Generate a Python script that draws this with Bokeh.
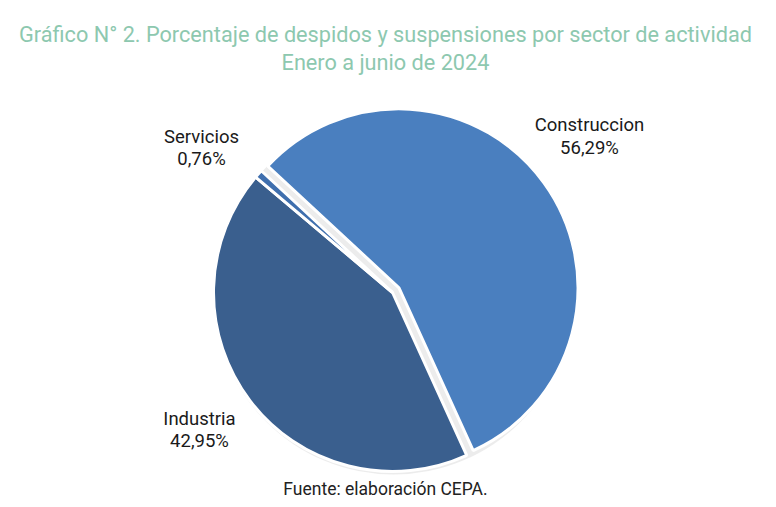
import math
from bokeh.plotting import figure
from bokeh.models import ColumnDataSource, Range1d
from bokeh.core.properties import value
from bokeh.embed import file_html
from bokeh.resources import INLINE

# ---- data ----
sectors = ["Construccion", "Industria", "Servicios"]
values = [56.29, 42.95, 0.76]
labels = ["56,29%", "42,95%", "0,76%"]
colors = ["#4a7fbf", "#3a5f8e", "#3f6fae"]
explode = [8, 0, 0]

title1 = "Gráfico N° 2. Porcentaje de despidos y suspensiones por sector de actividad"
title2 = "Enero a junio de 2024"
source_txt = "Fuente: elaboración CEPA."

W, H = 760, 499

def sx(X):
    return X - 2

def sy(Y):
    return 499 - Y

p = figure(width=W, height=H, output_backend="svg", toolbar_location=None,
           x_range=Range1d(0, W), y_range=Range1d(0, H), min_border=0)
p.axis.visible = False
p.grid.visible = False
p.outline_line_color = None
p.background_fill_color = "white"

cx, cy, R = sx(394), sy(292), 179
start_deg = -65.5  # clockwise end of Construccion
total = sum(values)
spans = [v / total * 2 * math.pi for v in values]
a0 = math.radians(start_deg)
starts = {}
ends = {}
starts[0] = a0
ends[0] = a0 + spans[0]
starts[2] = ends[0]
ends[2] = starts[2] + spans[2]
starts[1] = ends[2]
ends[1] = starts[1] + spans[1]

xs, ys, st, en = [], [], [], []
for i in range(3):
    mid = (starts[i] + ends[i]) / 2
    xs.append(cx + explode[i] * math.cos(mid))
    ys.append(cy + explode[i] * math.sin(mid))
    st.append(starts[i])
    en.append(ends[i])

src = ColumnDataSource(dict(x=xs, y=ys, start=st, end=en, color=colors))
# subtle shadow
p.wedge(x=[cx + 1], y=[cy - 2], radius=R + 1, start_angle=0, end_angle=2 * math.pi,
        fill_color="#c8c8c8", fill_alpha=0.35, line_color=None)
p.wedge(x="x", y="y", radius=R, start_angle="start", end_angle="end",
        fill_color="color", line_color="white", line_width=3, source=src)

# labels
label_pos = [(591, 124, 147), (201, 418, 440), (203, 136, 158)]
for i in range(3):
    X, Y1, Y2 = label_pos[i]
    p.text(x=[sx(X)], y=[sy(Y1)], text=[sectors[i]], text_font=value("Roboto"),
           text_font_size="18.5px", text_color="#1a1a1a", text_align="center",
           text_baseline="middle")
    p.text(x=[sx(X)], y=[sy(Y2)], text=[labels[i]], text_font=value("Roboto"),
           text_font_size="18.5px", text_color="#1a1a1a", text_align="center",
           text_baseline="middle")

# titles
p.text(x=[sx(387)], y=[sy(34)], text=[title1], text_font=value("Roboto"),
       text_font_size="21.7px", text_color="#8dc8af", text_align="center",
       text_baseline="middle")
p.text(x=[sx(387)], y=[sy(62)], text=[title2], text_font=value("Roboto"),
       text_font_size="21.7px", text_color="#8dc8af", text_align="center",
       text_baseline="middle")
p.text(x=[sx(387)], y=[sy(488)], text=[source_txt], text_font=value("Roboto"),
       text_font_size="17.5px", text_color="#222222", text_align="center",
       text_baseline="middle")

open("out.html", "w").write(file_html(p, INLINE))
